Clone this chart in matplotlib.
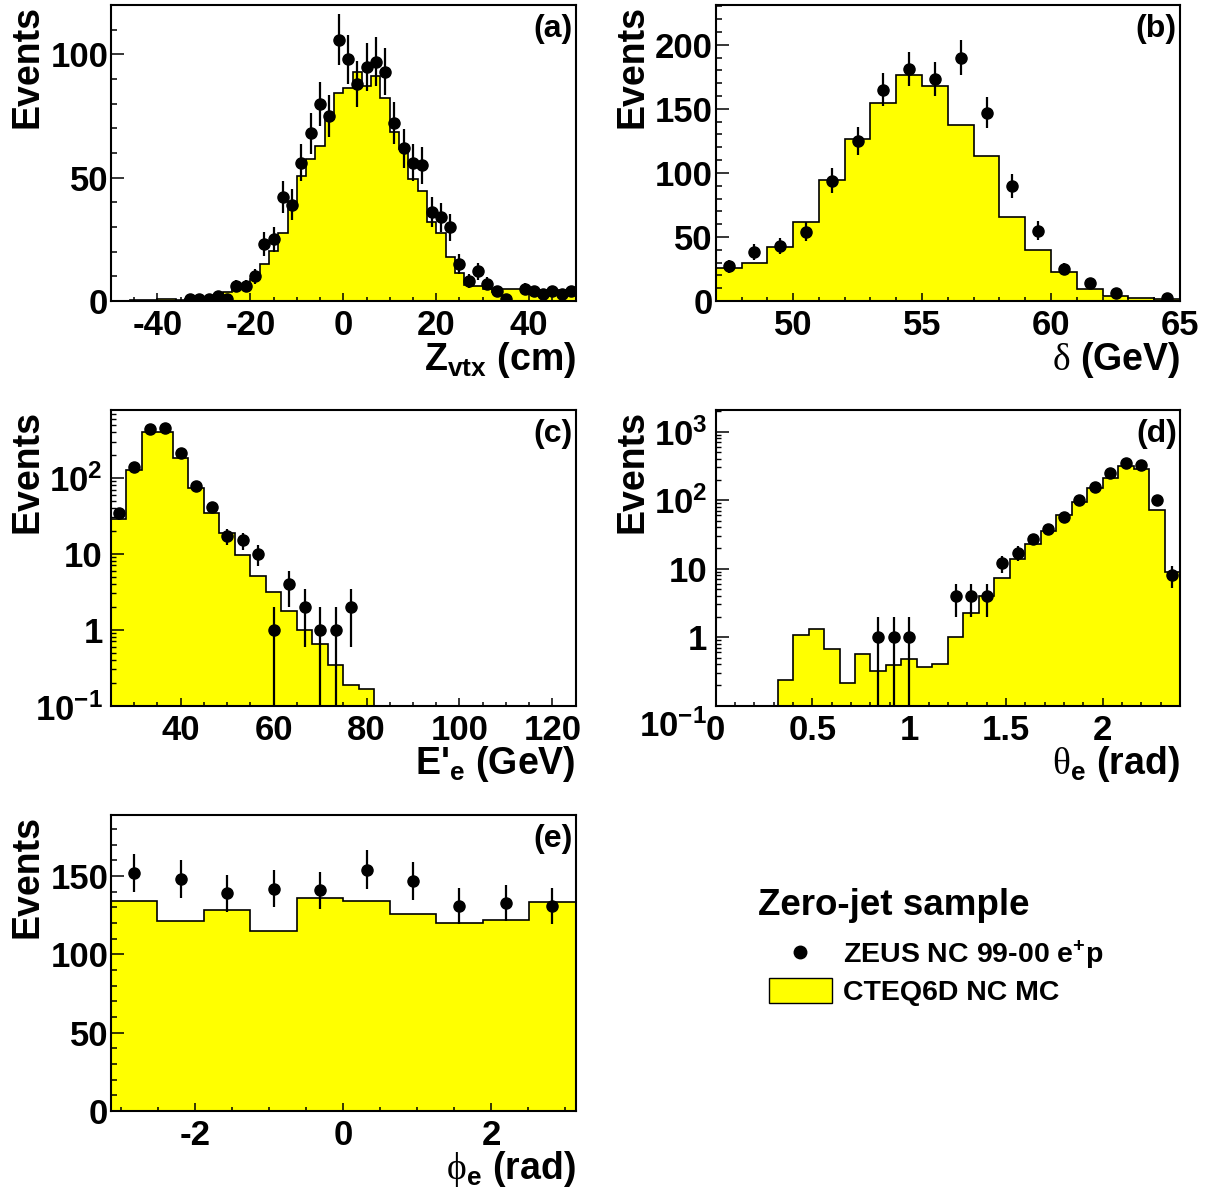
import numpy as np
import matplotlib
matplotlib.use('Agg')
from matplotlib import pyplot as plt
from matplotlib import transforms
from matplotlib.ticker import MultipleLocator, LogLocator, FixedLocator, FuncFormatter, NullFormatter
from matplotlib.lines import Line2D
from matplotlib.patches import Patch

plt.rcParams['font.family'] = ['Liberation Sans', 'DejaVu Sans']
plt.rcParams['font.weight'] = 'bold'
plt.rcParams['axes.labelweight'] = 'bold'
plt.rcParams['axes.unicode_minus'] = False
plt.rcParams['mathtext.fontset'] = 'custom'
plt.rcParams['mathtext.rm'] = 'Liberation Sans:bold'
plt.rcParams['mathtext.bf'] = 'Liberation Sans:bold'
plt.rcParams['mathtext.it'] = 'Liberation Sans:bold'
plt.rcParams['mathtext.cal'] = 'Liberation Serif:weight=normal'

YELLOW = '#ffff00'

# (a) Z vertex, 2 cm bins
zvtx_edges = np.arange(-50, 51, 2)
zvtx_mc = [0.2, 0.2, 0.3, 0.3, 0.4, 0.7, 0.7, 0.5, 0.8, 1.0, 1.2, 1.5, 3.5, 5.0, 6.5,
           8.8, 15, 20.4, 27.4, 38.6, 50.7, 57.7, 63, 73.8, 84.5,
           86.2, 92.7, 87.2, 91.2, 82.2, 68.4, 61.6, 49.3, 44.7, 32.2, 27.4, 17.7,
           11.5, 6.5, 6.2, 5.0, 3.5, 5.0, 5.0, 5.0, 4.5, 4.5, 4.5, 4.5, 4.5]
zvtx_data = [0, 0, 0, 0, 0, 0, 0, 0, 1, 1, 1, 2, 1, 6, 6, 10, 23, 25, 42, 39, 56, 68,
             80, 75, 106, 98, 88, 95, 97, 93, 72, 62, 56, 55, 36, 34, 30, 15, 8, 12,
             7, 4, 1, 0, 5, 4, 3, 4, 3, 4]

# (b) delta, 1 GeV bins
delta_edges = np.arange(47, 66, 1)
delta_mc = [26, 30, 41.8, 61.8, 94.3, 126.8, 154.5, 176.4, 167.8, 137.1, 113.5,
            65.2, 39.5, 22.6, 9.1, 3.9, 2.1, 1.3]
delta_data = [27, 38, 43, 54, 94, 125, 165, 181, 173, 190, 147, 90, 55, 25, 14, 6, 0, 2]

# (c) E'_e
ee_edges = np.linspace(25, 125, 31)
ee_mc = [28.6, 126, 403, 403, 183, 73.9, 34.6, 18.5, 9.5, 5.08, 3.13, 1.78, 1.0,
         0.64, 0.34, 0.187, 0.164] + [0] * 13
ee_data = [34, 140, 433, 446, 213, 77, 41, 17, 15, 10, 1, 4, 2, 1, 1, 2] + [0] * 14

# (d) theta_e
th_edges = np.linspace(0, 2.4, 31)
th_mc = [0, 0, 0, 0, 0.234, 1.076, 1.33, 0.68, 0.214, 0.574, 0.321, 0.392, 0.485,
         0.371, 0.41, 1.0, 2.23, 4.03, 7.22, 13.7, 22.7, 35.9, 60.7, 95, 149, 213,
         315, 282, 71.8, 8.9]
th_data = [0] * 10 + [1, 1, 1, 0, 0, 4, 4, 4, 12, 17, 27, 38, 56, 100, 157, 249,
                      349, 323, 102, 8]

# (e) phi_e
phi_edges = np.linspace(-np.pi, np.pi, 11)
phi_mc = [134.1, 121.1, 128.1, 115.1, 135.8, 133.9, 126, 119.8, 122, 133.5]
phi_data = [152, 148, 139, 142, 141, 154, 147, 131, 133, 131]

log_labels = {1: '1', 10: '10', 100: '10$^{\\mathbf{2}}$', 1000: '10$^{\\mathbf{3}}$'}


def draw_panel(ax, edges, mc, data, tag, xlabel, xlim, ylim, xmaj, xmin,
               ymaj=None, ymin=None, log=False, low_shift=(0, 0)):
    mc = np.asarray(mc, dtype=float)
    data = np.asarray(data, dtype=float)
    if log:
        ax.set_yscale('log')
    ax.stairs(mc, edges, fill=True, facecolor=YELLOW, edgecolor='none', baseline=0)
    ax.stairs(mc, edges, color='k', lw=1.2, baseline=0)
    centers = 0.5 * (edges[1:] + edges[:-1])
    ok = data > 0
    ax.errorbar(centers[ok], data[ok], yerr=np.sqrt(data[ok]), fmt='o', color='k',
                ms=8, elinewidth=1.6, capsize=0)
    ax.set_xlim(*xlim)
    ax.set_ylim(*ylim)
    ax.xaxis.set_major_locator(MultipleLocator(xmaj))
    ax.xaxis.set_minor_locator(MultipleLocator(xmin))
    ax.xaxis.set_major_formatter(FuncFormatter(lambda v, p: '%g' % round(v, 3)))
    ax.tick_params(which='both', direction='in', top=False, right=False, labelsize=25)
    ax.tick_params(axis='x', which='major', length=6, width=1.1, pad=6)
    ax.tick_params(axis='x', which='minor', length=3, width=1.1)
    if log:
        ax.yaxis.set_major_locator(FixedLocator([0.1, 1, 10, 100, 1000]))
        ax.yaxis.set_minor_locator(LogLocator(base=10, subs=np.arange(2, 10)))
        ax.yaxis.set_major_formatter(FuncFormatter(lambda v, p: log_labels.get(round(v, 3), '')))
        ax.yaxis.set_minor_formatter(NullFormatter())
        ax.tick_params(axis='y', which='major', length=9, width=1.1, pad=6)
        ax.tick_params(axis='y', which='minor', length=3.5, width=1.0)
        # lowest decade label sits at/under the frame corner, as in the original
        shift = transforms.ScaledTranslation(low_shift[0] / 100, low_shift[1] / 100,
                                             ax.figure.dpi_scale_trans)
        tr = transforms.blended_transform_factory(ax.transAxes, ax.transData) + shift
        ax.text(0, ylim[0], '10$^{\\mathbf{-1}}$', transform=tr, ha='right', va='top',
                fontsize=25)
    else:
        ax.yaxis.set_major_locator(MultipleLocator(ymaj))
        ax.yaxis.set_minor_locator(MultipleLocator(ymin))
        ax.tick_params(axis='y', which='major', length=9, width=1.1, pad=2)
        ax.tick_params(axis='y', which='minor', length=4.5, width=1.1)
    for sp in ax.spines.values():
        sp.set_linewidth(1.5)
    ax.set_ylabel('Events', loc='top', fontsize=27, fontweight='bold')
    ax.yaxis.set_label_coords(-0.14, 1.0)
    ax.set_xlabel(xlabel, loc='right', fontsize=27, fontweight='bold')
    ax.xaxis.set_label_coords(1.0, -0.13)
    ax.text(0.993, 0.968, tag, transform=ax.transAxes, ha='right', va='top', fontsize=23)


fig = plt.figure(figsize=(12.17, 11.95), dpi=100)

ax_a = fig.add_axes([0.0912, 0.7481, 0.3818, 0.2477])
draw_panel(ax_a, zvtx_edges, zvtx_mc, zvtx_data, '(a)', 'Z$_{\\mathbf{vtx}}$ (cm)',
           (-50, 50), (0, 120), 20, 5, 50, 10)

ax_b = fig.add_axes([0.5881, 0.7481, 0.3815, 0.2477])
draw_panel(ax_b, delta_edges, delta_mc, delta_data, '(b)', '$\\mathcal{\\delta}$ (GeV)',
           (47, 65), (0, 231), 5, 1, 50, 10)

ax_c = fig.add_axes([0.0912, 0.4095, 0.3818, 0.2474])
draw_panel(ax_c, ee_edges, ee_mc, ee_data, '(c)', "E'$_{\\mathbf{e}}$ (GeV)",
           (25, 125), (0.1, 780), 20, 5, log=True, low_shift=(-8, 12))

ax_d = fig.add_axes([0.5881, 0.4095, 0.3815, 0.2474])
draw_panel(ax_d, th_edges, th_mc, th_data, '(d)', '$\\mathcal{\\theta}_{\\mathbf{e}}$ (rad)',
           (0, 2.4), (0.1, 2070), 0.5, 0.1, log=True, low_shift=(-9, -4))

ax_e = fig.add_axes([0.0912, 0.0703, 0.3818, 0.2477])
draw_panel(ax_e, phi_edges, phi_mc, phi_data, '(e)', '$\\mathcal{\\phi}_{\\mathbf{e}}$ (rad)',
           (-np.pi, np.pi), (0, 189), 2, 0.5, 50, 10)

fig.text(758 / 1217, 1 - 915 / 1195, 'Zero-jet sample', fontsize=26.5, va='baseline', ha='left')
handles = [Line2D([], [], marker='o', ls='none', color='k', ms=9),
           Patch(facecolor=YELLOW, edgecolor='k', lw=1)]
fig.legend(handles, ['ZEUS NC 99-00 e$^{\\mathbf{+}}$p', 'CTEQ6D NC MC'],
           loc='upper left', bbox_to_anchor=(769 / 1217, 1 - 939 / 1195),
           frameon=False, fontsize=20.5, handlelength=2.2, handleheight=1.0,
           handletextpad=0.4, borderpad=0, borderaxespad=0, labelspacing=0.2)

fig.savefig('out.png', dpi=100)
